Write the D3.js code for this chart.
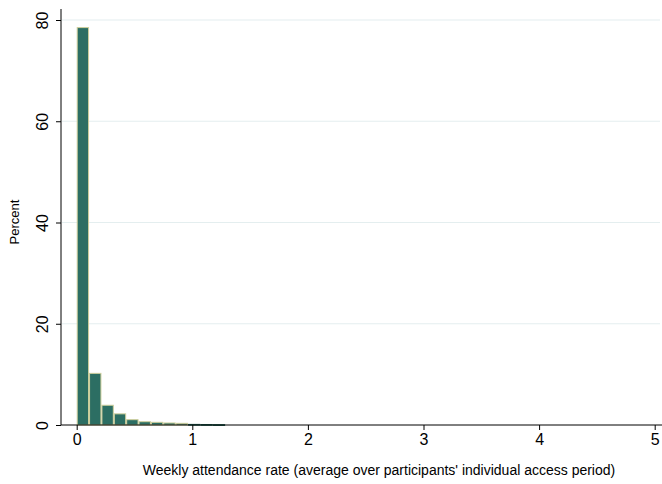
<!DOCTYPE html>
<html><head><meta charset="utf-8">
<script src="https://cdn.jsdelivr.net/npm/d3@7"></script>
<style>body{margin:0;background:#fff;} svg{display:block;font-family:"Liberation Sans",Arial,sans-serif;}</style>
</head><body>
<svg id="c" width="662" height="484"></svg>
<script>
// Histogram: bin width (attendance rate units) and percent per bin
const binWidth = 0.107;
const percents = [78.5, 10.2, 3.9, 2.2, 1.05, 0.65, 0.53, 0.4, 0.33, 0.12, 0.1, 0.07];
const xTicks = [0, 1, 2, 3, 4, 5];
const yTicks = [0, 20, 40, 60, 80];
const xTitle = "Weekly attendance rate (average over participants' individual access period)";
const yTitle = "Percent";

const svg = d3.select("#c");
const x = d3.scaleLinear().domain([0, 5]).range([76.7, 654.7]);
const y = d3.scaleLinear().domain([0, 80]).range([425, 20]);
const left = 61, right = 662;

// gridlines
svg.append("g").selectAll("line").data(yTicks.filter(d => d > 0)).join("line")
  .attr("x1", left + 1).attr("x2", 660)
  .attr("y1", d => y(d)).attr("y2", d => y(d))
  .attr("stroke", "#e4eeef").attr("stroke-width", 1.2);

// bars
const bins = percents.map((p, i) => ({x0: i * binWidth, x1: (i + 1) * binWidth, p}));
svg.append("g").selectAll("rect").data(bins).join("rect")
  .attr("x", d => x(d.x0) + 0.5)
  .attr("width", d => x(d.x1) - x(d.x0) - 1)
  .attr("y", d => y(d.p))
  .attr("height", d => Math.max(0.8, y(0) - y(d.p)))
  .attr("fill", "#2c6e63")
  .attr("stroke", d => d.p < 0.2 ? "#1f5a4e" : "#cfcf9c")
  .attr("stroke-width", 1);

// y axis
const ya = svg.append("g").attr("transform", `translate(${left},0)`)
  .call(d3.axisLeft(y).tickValues(yTicks).tickSize(5).tickPadding(8));
ya.select(".domain").attr("d", `M0,9V${y(0)}`).attr("stroke", "#000");
ya.selectAll(".tick line").attr("stroke", "#000");
ya.selectAll(".tick text")
  .attr("font-size", 16).attr("fill", "#000")
  .attr("text-anchor", "middle")
  .attr("dy", "0.35em")
  .attr("x", 0).attr("y", 0)
  .attr("transform", "translate(-19,0) rotate(-90)");

// x axis
const xa = svg.append("g").attr("transform", `translate(0,${y(0)})`)
  .call(d3.axisBottom(x).tickValues(xTicks).tickSize(5).tickPadding(4).tickFormat(d3.format("d")));
xa.select(".domain").attr("d", `M${left},0H${right}`).attr("stroke", "#000");
xa.selectAll(".tick line").attr("stroke", "#000");
xa.selectAll(".tick text").attr("font-size", 16).attr("fill", "#000");

// titles
svg.append("text").attr("x", 379).attr("y", 475).attr("text-anchor", "middle")
  .attr("font-size", 14).attr("fill", "#000").text(xTitle);
svg.append("text").attr("transform", "translate(19,222) rotate(-90)")
  .attr("text-anchor", "middle").attr("font-size", 13).attr("fill", "#000").text(yTitle);
</script>
</body></html>
